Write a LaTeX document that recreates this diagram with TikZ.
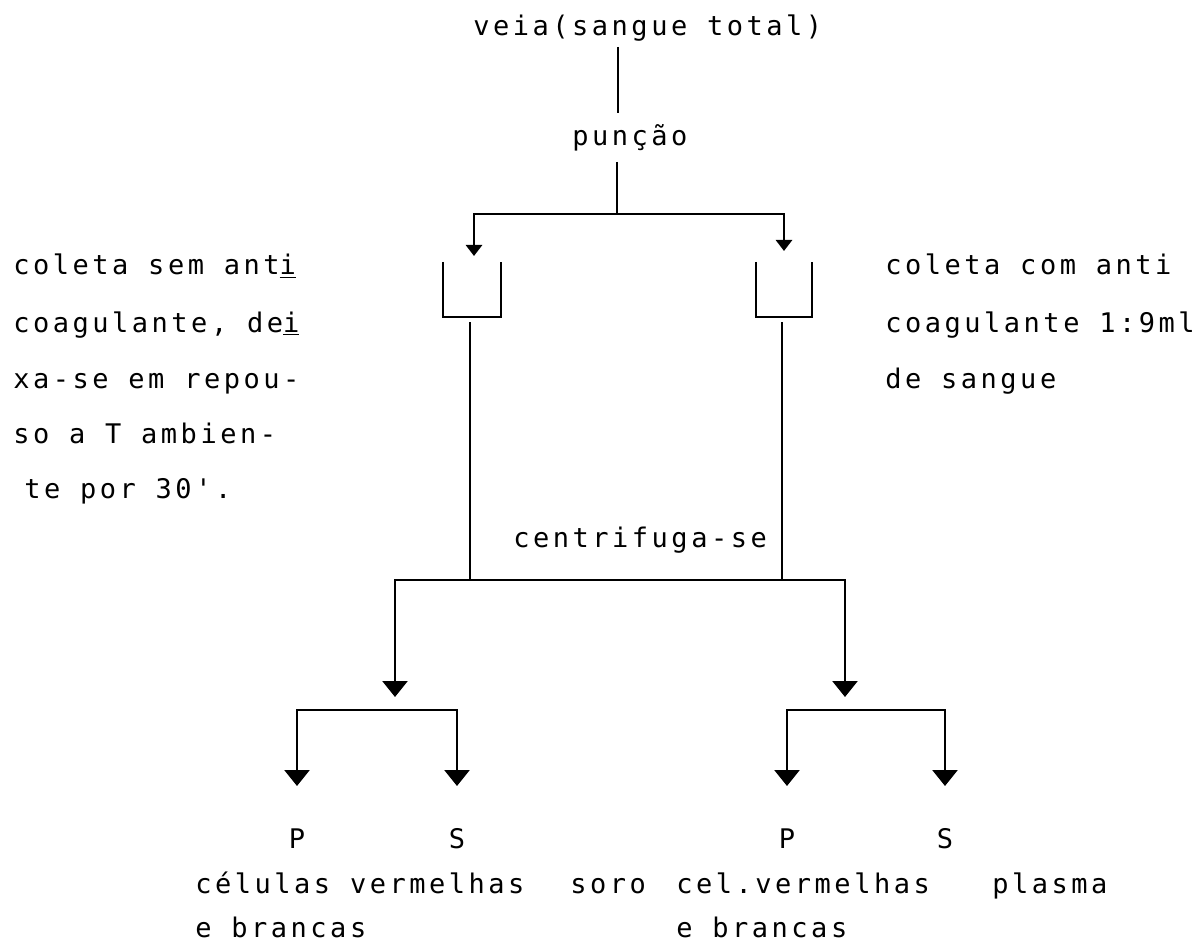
\documentclass[tikz,border=0pt]{standalone}
\usepackage{fontspec}
\newfontfamily\tw[LetterSpace=13,Ligatures=TeXOff]{DejaVu Sans Mono}
\usetikzlibrary{arrows.meta}

\begin{document}
\begin{tikzpicture}[x=0.5pt,y=-0.5pt,
    every node/.style={inner sep=0pt, anchor=base west, font=\tw\fontsize{13.5}{13.5}\selectfont},
    line/.style={draw, line width=1.4pt},
    tip/.style={line, -{Triangle[width=8pt,length=5.5pt]}},
    bigtip/.style={line, -{Triangle[width=12.5pt,length=8pt]}},
    letter/.style={anchor=base},
  ]
  \useasboundingbox (0,0) rectangle (1201,947);
  % sangue e punção
  \node (veia) at (473,36) {veia(sangue total)};
  \node (puncao) at (572,146) {punção};
  \coordinate (v1) at (618,47);
  \coordinate (v2) at (618,113);
  \coordinate (p1) at (617,162);
  \coordinate (split) at (617,214);
  \coordinate (tubeL) at (474,256);
  \coordinate (tubeR) at (784,251);
  \draw[line] (v1) -- (v2);
  \draw[line] (p1) -- (split);
  \draw[tip] (split) -| (tubeL);
  \draw[tip] (split) -| (tubeR);
  % tubos
  \draw[line] (443,262) -- (443,317) -- (501,317) -- (501,262);
  \draw[line] (756,262) -- (756,317) -- (812,317) -- (812,262);
  % textos laterais
  \node (semL1) at (13,275) {coleta sem ant\underline{i}};
  \node (semL2) at (13,332) {coagulante, de\underline{i}};
  \node (semL3) at (13,388) {xa-se em repou-};
  \node (semL4) at (13,443) {so a T ambien-};
  \node (semL5) at (24,498) {te por 30'.};
  \node (comL1) at (885,275) {coleta com anti};
  \node (comL2) at (885,332) {coagulante 1:9ml};
  \node (comL3) at (885,388) {de sangue};
  % centrifugação
  \node (centr) at (513,547) {centrifuga-se};
  \coordinate (c1) at (470,322);
  \coordinate (c2) at (782,322);
  \coordinate (mid) at (620,580);
  \coordinate (gL) at (395,697);
  \coordinate (gR) at (845,697);
  \draw[line] (c1) -- (c1 |- mid);
  \draw[line] (c2) -- (c2 |- mid);
  \draw[bigtip] (mid) -| (gL);
  \draw[bigtip] (mid) -| (gR);
  % P e S
  \coordinate (hL) at (377,710);
  \coordinate (hR) at (866,710);
  \coordinate (tP1) at (297,786);
  \coordinate (tS1) at (457,786);
  \coordinate (tP2) at (787,786);
  \coordinate (tS2) at (945,786);
  \draw[bigtip] (hL) -| (tP1);
  \draw[bigtip] (hL) -| (tS1);
  \draw[bigtip] (hR) -| (tP2);
  \draw[bigtip] (hR) -| (tS2);
  \node[letter] (P1) at (297,848) {P};
  \node[letter] (S1) at (457,848) {S};
  \node[letter] (P2) at (787,848) {P};
  \node[letter] (S2) at (945,848) {S};
  % resultados
  \node (celA) at (195,893) {células vermelhas};
  \node (celB) at (195,937) {e brancas};
  \node (soro) at (570,893) {soro};
  \node (celC) at (676,893) {cel.vermelhas};
  \node (celD) at (676,937) {e brancas};
  \node (plasma) at (992,893) {plasma};
\end{tikzpicture}
\end{document}
